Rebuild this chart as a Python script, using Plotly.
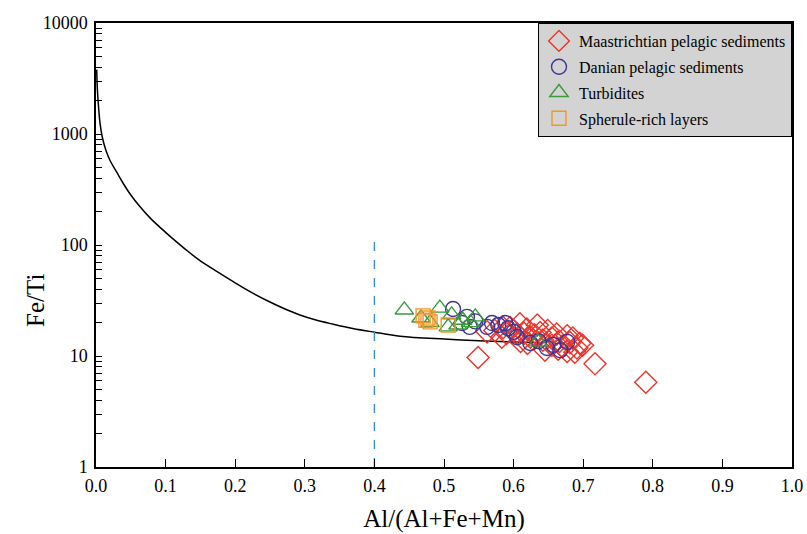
import plotly.graph_objects as go

# Mixing curve (Al/(Al+Fe+Mn) vs Fe/Ti)
curve_x = [0.001, 0.002, 0.004, 0.006, 0.009, 0.014, 0.02, 0.03, 0.039, 0.05,
           0.063, 0.079, 0.1, 0.109, 0.129, 0.149, 0.174, 0.2, 0.224, 0.247,
           0.27, 0.293, 0.316, 0.34, 0.369, 0.4, 0.437, 0.5, 0.55, 0.632]
curve_y = [3800, 2500, 1650, 1220, 940, 720, 580, 450, 360, 282,
           222, 172, 130, 116, 91, 72.6, 57.5, 45.6, 37.2, 31.3,
           26.8, 23.4, 21.1, 19.4, 17.7, 16.4, 15.1, 14.2, 13.7, 13.2]

# Divider at Al/(Al+Fe+Mn) = 0.4
divider_x = [0.4, 0.4]
divider_y = [1, 112]

maastrichtian_x = [0.549, 0.562, 0.573, 0.585, 0.583, 0.595, 0.609, 0.605, 0.619, 0.624,
                   0.634, 0.638, 0.642, 0.649, 0.655, 0.662, 0.666, 0.677, 0.681, 0.685,
                   0.691, 0.695, 0.699, 0.645, 0.664, 0.677, 0.717, 0.790, 0.590, 0.600,
                   0.615, 0.630, 0.610, 0.620, 0.655, 0.670, 0.688]
maastrichtian_y = [9.7, 16.5, 17.0, 18.0, 14.8, 18.0, 19.5, 15.8, 17.5, 14.8,
                   19.0, 16.3, 13.9, 17.0, 14.5, 15.8, 13.5, 15.2, 13.2, 14.5,
                   11.8, 13.0, 12.5, 11.3, 11.5, 11.0, 8.5, 5.8, 16.0, 17.0,
                   16.0, 15.5, 13.5, 13.0, 12.5, 12.2, 10.8]

danian_x = [0.513, 0.533, 0.537, 0.526, 0.562, 0.569, 0.578, 0.588, 0.592, 0.605,
            0.624, 0.648, 0.657, 0.636, 0.667, 0.677, 0.545, 0.600]
danian_y = [26.5, 22.5, 18.3, 19.8, 18.3, 19.8, 19.0, 19.8, 17.8, 14.8,
            13.1, 11.8, 12.6, 13.6, 11.3, 13.4, 20.5, 16.5]

turbidite_x = [0.443, 0.467, 0.494, 0.511, 0.527, 0.545, 0.480, 0.506, 0.520, 0.538, 0.635]
turbidite_y = [26.0, 22.0, 27.0, 23.5, 21.0, 22.5, 20.0, 18.3, 19.0, 20.0, 13.4]

spherule_x = [0.470, 0.477, 0.480, 0.506, 0.474]
spherule_y = [23.0, 22.0, 20.3, 19.0, 21.0]

fig = go.Figure()

fig.add_trace(go.Scatter(
    x=curve_x, y=curve_y, mode="lines", showlegend=False,
    line=dict(color="black", width=1.5, shape="spline", smoothing=1.0),
    hoverinfo="skip"))

fig.add_trace(go.Scatter(
    x=divider_x, y=divider_y, mode="lines", showlegend=False,
    line=dict(color="#3a8fd0", width=1.4, dash="dash"), hoverinfo="skip"))

marker_line = 1.4
series = [
    ("Maastrichtian pelagic sediments", maastrichtian_x, maastrichtian_y,
     "diamond-open", 17, "#e8362c"),
    ("Danian pelagic sediments", danian_x, danian_y,
     "circle-open", 15, "#3f3596"),
    ("Turbidites", turbidite_x, turbidite_y,
     "triangle-up-open", 16, "#3a9a3c"),
    ("Spherule-rich layers", spherule_x, spherule_y,
     "square-open", 14, "#f5962a"),
]
for name, xs, ys, sym, size, col in series:
    fig.add_trace(go.Scatter(
        x=xs, y=ys, mode="markers", name=name, legendgroup=name,
        marker=dict(symbol=sym, size=size, color=col,
                    line=dict(width=marker_line))))

serif = "Liberation Serif"
fig.update_layout(
    width=807, height=534,
    margin=dict(l=96, r=15, t=23, b=67),
    paper_bgcolor="white", plot_bgcolor="white",
    font=dict(family=serif, size=18, color="black"),
    showlegend=True,
    legend=dict(
        x=1.0, y=1, xanchor="right", yanchor="top",
        bgcolor="#d3d3d3", bordercolor="black", borderwidth=1,
        font=dict(family=serif, size=16, color="black"),
        itemsizing="trace", tracegroupgap=2,
    ),
    xaxis=dict(
        range=[0, 1], dtick=0.1, tickformat=".1f",
        showline=True, linecolor="black", linewidth=1.5, mirror=True,
        ticks="inside", ticklen=8, tickwidth=1, tickcolor="black",
        ticklabelstandoff=2, automargin=False,
        showgrid=False, zeroline=False,
        title=dict(text="Al/(Al+Fe+Mn)", font=dict(family=serif, size=25), standoff=14),
    ),
    yaxis=dict(
        type="log", range=[0, 4], dtick=1,
        tickvals=[1, 10, 100, 1000, 10000],
        ticktext=["1", "10", "100", "1000", "10000"],
        showline=True, linecolor="black", linewidth=1.5, mirror=True,
        ticks="inside", ticklen=6, tickwidth=1, tickcolor="black",
        ticklabelstandoff=3, automargin=False,
        minor=dict(ticks="inside", ticklen=6, tickwidth=1, tickcolor="black",
                   showgrid=False, dtick="D1"),
        showgrid=False, zeroline=False,
    ),
    annotations=[dict(
        text="Fe/Ti", textangle=-90, showarrow=False,
        xref="paper", yref="paper", x=0, y=0.374,
        xanchor="center", yanchor="middle", xshift=-60,
        font=dict(family=serif, size=25, color="black"),
    )],
)

fig.write_html("out.html")
